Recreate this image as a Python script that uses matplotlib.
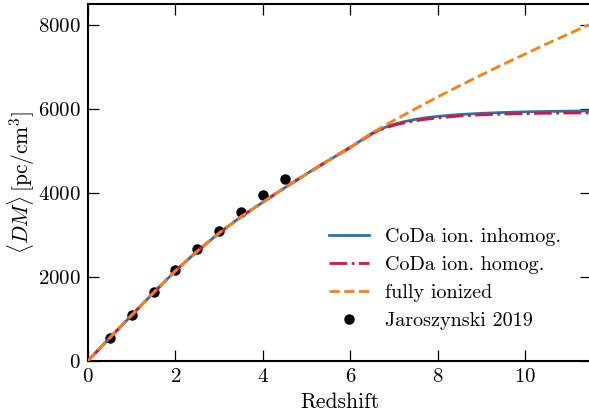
import numpy as np
import matplotlib
matplotlib.use('Agg')
import matplotlib.pyplot as plt

plt.rcParams['font.family'] = 'serif'
plt.rcParams['font.serif'] = ['cmr10']
plt.rcParams['mathtext.fontset'] = 'cm'
plt.rcParams['axes.unicode_minus'] = False
plt.rcParams['axes.formatter.use_mathtext'] = True

# mean dispersion measure vs redshift
z = [0, 0.5, 1, 1.5, 2, 2.5, 3, 3.5, 4, 4.5, 5, 5.5, 6, 6.25, 6.5, 6.75,
     7, 7.25, 7.5, 7.75, 8, 8.5, 9, 9.5, 10, 10.5, 11, 11.5]
dm_inhomog = [0, 545, 1085, 1620, 2140, 2610, 3040, 3430, 3775, 4120, 4450,
              4770, 5080, 5250, 5415, 5540, 5630, 5697, 5748, 5788, 5818,
              5862, 5890, 5910, 5925, 5935, 5942, 5948]
dm_homog = [0, 545, 1085, 1620, 2140, 2610, 3040, 3430, 3775, 4120, 4450,
            4770, 5080, 5248, 5410, 5525, 5608, 5668, 5715, 5752, 5782,
            5826, 5855, 5872, 5884, 5892, 5897, 5900]
dm_ionized = [0, 545, 1085, 1620, 2140, 2610, 3040, 3430, 3775, 4120, 4450,
              4770, 5085, 5260, 5425, 5580, 5724, 5866, 6006, 6145, 6282,
              6548, 6807, 7060, 7305, 7550, 7786, 8019]

# Jaroszynski 2019 points
z_jar = [0.5, 1, 1.5, 2, 2.5, 3, 3.5, 4, 4.5]
dm_jar = [548, 1088, 1643, 2160, 2652, 3095, 3533, 3945, 4326]

fig = plt.figure(figsize=(5.89, 4.17), dpi=100)
ax = fig.add_axes([88/589, 56.3/417, 503/589, 357/417])

ax.plot(z_jar, dm_jar, 'o', color='black', markersize=6.5, lw=0,
        label='Jaroszynski 2019', zorder=1)
ax.plot(z, dm_inhomog, '-', color='#1f77b4', lw=2, label='CoDa ion. inhomog.', zorder=2)
ax.plot(z, dm_homog, '-.', color='crimson', lw=2, label='CoDa ion. homog.', zorder=3)
ax.plot(z, dm_ionized, '--', color='#ff7f0e', lw=2, label='fully ionized', zorder=4)

ax.set_xlim(0, 11.5)
ax.set_ylim(0, 8500)
ax.set_xticks([0, 2, 4, 6, 8, 10])
ax.set_yticks([0, 2000, 4000, 6000, 8000])
ax.tick_params(direction='in', top=True, right=True, length=8, width=0.9,
               labelsize=15, pad=5)
for s in ax.spines.values():
    s.set_linewidth(1.5)

ax.set_xlabel('Redshift', fontsize=15.5, labelpad=5)
ax.set_ylabel(r'$\langle DM\rangle\,$[pc/cm$^3$]', fontsize=15.5, labelpad=1)

h, l = ax.get_legend_handles_labels()
order = [1, 2, 3, 0]
ax.legend([h[i] for i in order], [l[i] for i in order], loc='lower right',
          bbox_to_anchor=(0.977, 0.035), frameon=False, fontsize=14.5,
          handlelength=2.0, labelspacing=0.5)

fig.savefig('out.png', dpi=100)
